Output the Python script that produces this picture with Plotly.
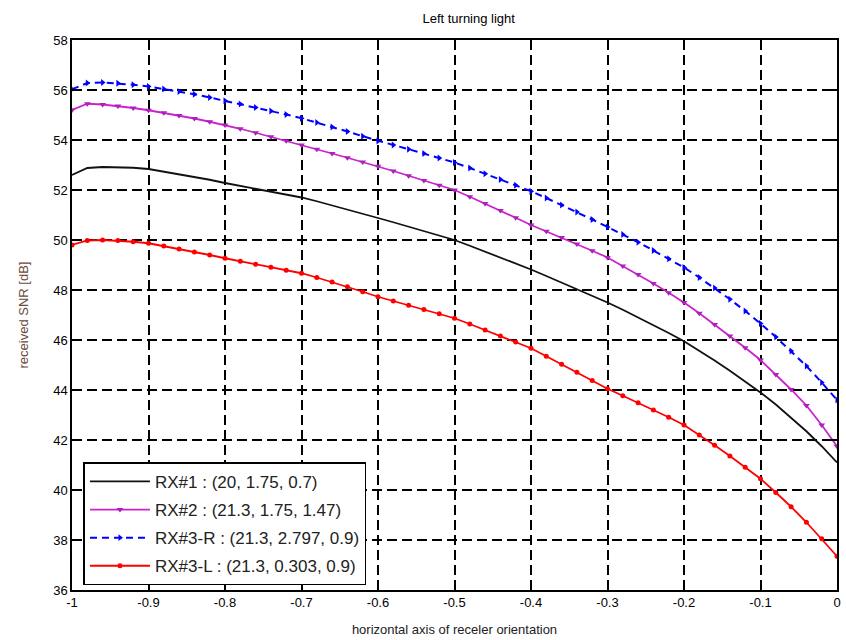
import plotly.graph_objects as go

x_vals = [round(-1 + 0.02 * i, 2) for i in range(51)]

rx1 = [52.60, 52.88, 52.92, 52.92, 52.89, 52.84, 52.74, 52.64, 52.53, 52.41,
       52.28, 52.17, 52.06, 51.94, 51.82, 51.70, 51.55, 51.39, 51.23, 51.06,
       50.88, 50.71, 50.54, 50.36, 50.18, 50.00, 49.77, 49.54, 49.30, 49.06,
       48.82, 48.56, 48.30, 48.03, 47.76, 47.50, 47.21, 46.91, 46.60, 46.28,
       45.95, 45.58, 45.18, 44.77, 44.35, 43.90, 43.42, 42.90, 42.35, 41.75,
       41.10]

rx2 = [55.20, 55.45, 55.42, 55.36, 55.28, 55.19, 55.09, 54.98, 54.86, 54.73,
       54.60, 54.45, 54.29, 54.13, 53.97, 53.80, 53.63, 53.46, 53.29, 53.12,
       52.95, 52.76, 52.57, 52.38, 52.19, 52.00, 51.73, 51.46, 51.18, 50.89,
       50.60, 50.35, 50.10, 49.84, 49.57, 49.30, 48.96, 48.62, 48.26, 47.89,
       47.50, 47.07, 46.62, 46.16, 45.69, 45.20, 44.62, 44.02, 43.38, 42.60,
       41.75]

rx3r = [56.03, 56.28, 56.30, 56.27, 56.21, 56.14, 56.04, 55.94, 55.83, 55.70,
        55.57, 55.44, 55.30, 55.16, 55.02, 54.87, 54.70, 54.52, 54.34, 54.15,
        53.96, 53.80, 53.63, 53.46, 53.28, 53.10, 52.88, 52.65, 52.42, 52.19,
        51.95, 51.68, 51.40, 51.12, 50.82, 50.52, 50.22, 49.91, 49.58, 49.25,
        48.90, 48.50, 48.08, 47.63, 47.16, 46.66, 46.12, 45.56, 44.96, 44.30,
        43.60]

rx3l = [49.80, 49.98, 50.00, 49.98, 49.93, 49.87, 49.76, 49.64, 49.52, 49.40,
        49.27, 49.15, 49.03, 48.91, 48.79, 48.67, 48.50, 48.32, 48.13, 47.93,
        47.73, 47.56, 47.39, 47.22, 47.05, 46.87, 46.64, 46.40, 46.16, 45.92,
        45.67, 45.35, 45.03, 44.71, 44.38, 44.05, 43.77, 43.49, 43.20, 42.91,
        42.60, 42.20, 41.79, 41.36, 40.91, 40.45, 39.90, 39.33, 38.71, 38.05,
        37.35]

names = ["RX#1 : (20, 1.75, 0.7)",
         "RX#2 : (21.3, 1.75, 1.47)",
         "RX#3-R : (21.3, 2.797, 0.9)",
         "RX#3-L : (21.3, 0.303, 0.9)"]

x_ticks = [-1, -0.9, -0.8, -0.7, -0.6, -0.5, -0.4, -0.3, -0.2, -0.1, 0]
x_ticktext = ["-1", "-0.9", "-0.8", "-0.7", "-0.6", "-0.5", "-0.4", "-0.3", "-0.2", "-0.1", "0"]
y_ticks = [36, 38, 40, 42, 44, 46, 48, 50, 52, 54, 56, 58]

FONT = "Liberation Sans, Arial"

fig = go.Figure()
fig.add_trace(go.Scatter(x=x_vals, y=rx1, name=names[0], mode="lines",
                         line=dict(color="#111111", width=1.8), legendgroup="a"))
fig.add_trace(go.Scatter(x=x_vals, y=rx2, name=names[1], mode="lines+markers",
                         line=dict(color="#cc22cc", width=1.8),
                         marker=dict(symbol="triangle-down", size=6, color="#aa22bb"),
                         legendgroup="b"))
fig.add_trace(go.Scatter(x=x_vals, y=rx3r, name=names[2], mode="lines+markers",
                         line=dict(color="#0000ff", width=2, dash="7px,5px"),
                         marker=dict(symbol="triangle-right", size=6, color="#0000ff"),
                         legendgroup="c"))
fig.add_trace(go.Scatter(x=x_vals, y=rx3l, name=names[3], mode="lines+markers",
                         line=dict(color="#ff0000", width=1.8),
                         marker=dict(symbol="circle", size=5, color="#ff0000"),
                         legendgroup="d"))

axis_common = dict(
    showline=True, linecolor="black", linewidth=1.5, mirror="ticks",
    ticks="inside", ticklen=6, tickcolor="black", tickwidth=1.5,
    showgrid=True, gridcolor="black", gridwidth=1.5, griddash="10px,5px",
    zeroline=False, automargin=False,
    tickfont=dict(family=FONT, size=13, color="black"),
)

fig.update_xaxes(range=[-1, 1e-9], tickvals=x_ticks, ticktext=x_ticktext,
                 title=dict(text="horizontal axis of receler orientation",
                            font=dict(family=FONT, size=13, color="#222222"),
                            standoff=16),
                 **axis_common)
fig.update_yaxes(range=[36, 58], tickvals=y_ticks,
                 title=dict(text="received SNR [dB]",
                            font=dict(family=FONT, size=13, color="#6a4a3c"),
                            standoff=22),
                 **axis_common)

fig.update_layout(
    width=846, height=640,
    margin=dict(l=72, r=9, t=40, b=50, autoexpand=False),
    paper_bgcolor="white", plot_bgcolor="white",
    title=dict(text="Left turning light", x=0.554, xanchor="center",
               y=1 - 18 / 640, yanchor="middle", automargin=False,
               font=dict(family=FONT, size=13, color="black")),
    showlegend=True,
    legend=dict(x=0.015, y=0.232, xanchor="left", yanchor="top",
                bgcolor="white", bordercolor="black", borderwidth=1.5,
                font=dict(family=FONT, size=17, color="#222222"),
                itemwidth=60, tracegroupgap=3),
)

fig.write_html("out.html", config={"displayModeBar": False},
               post_script="document.body.style.margin='0';document.body.style.padding='0';")
